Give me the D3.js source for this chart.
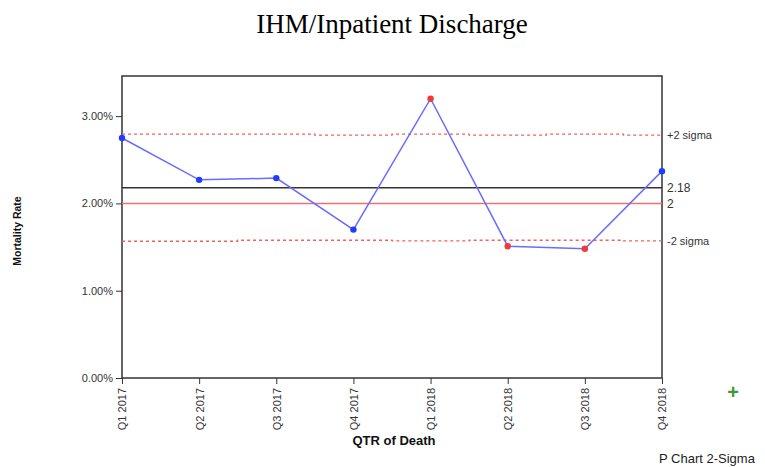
<!DOCTYPE html>
<html>
    <head>
        <title>IHM/Inpatient Discharge</title>
        <script src="https://d3js.org/d3.v7.min.js"></script>
        <style>
            body { margin: 0; background: #fff; }
            .axis text { font-family: "Liberation Sans", Arial, sans-serif; font-size: 11px; fill: #333; }
            .axis line, .axis path { stroke: #333; }
        </style>
    </head>
    <body>
        <svg width="765" height="467"></svg>
        <script>
            // quarters and rates (percent)
            var quarters = ["Q1 2017", "Q2 2017", "Q3 2017", "Q4 2017", "Q1 2018", "Q2 2018", "Q3 2018", "Q4 2018"];
            var rates = [2.75, 2.27, 2.29, 1.70, 3.20, 1.51, 1.48, 2.37];
            var upperLimit = [2.793, 2.793, 2.793, 2.782, 2.793, 2.782, 2.793, 2.782];
            var lowerLimit = [1.567, 1.567, 1.578, 1.578, 1.570, 1.578, 1.578, 1.570];
            var centerLine = 2.18;
            var targetLine = 2;
            var yTicks = [0, 1, 2, 3];

            var margin = {top: 76, right: 103, bottom: 89, left: 122};
            var width = 765 - margin.left - margin.right;
            var height = 467 - margin.top - margin.bottom;

            var svg = d3.select("svg");
            var g = svg.append("g")
                .attr("transform", "translate(" + margin.left + "," + margin.top + ")");

            var x = d3.scalePoint().domain(quarters).range([0, width]);
            var y = d3.scaleLinear().domain([0, 3.46]).range([height, 0]);

            // title
            svg.append("text")
                .attr("x", 392).attr("y", 33)
                .attr("text-anchor", "middle")
                .style("font-family", "'Liberation Serif', 'Times New Roman', serif")
                .style("font-size", "27px")
                .text("IHM/Inpatient Discharge");

            // axes
            g.append("g").attr("class", "axis")
                .call(d3.axisLeft(y).tickValues(yTicks).tickSize(6).tickFormat(d => d.toFixed(2) + "%"))
                .call(a => a.select(".domain").remove());

            g.append("g").attr("class", "axis")
                .attr("transform", "translate(0," + height + ")")
                .call(d3.axisBottom(x).tickSize(6))
                .call(a => a.select(".domain").remove())
                .selectAll("text")
                .attr("transform", "rotate(-90)")
                .attr("text-anchor", "end")
                .attr("x", -10).attr("y", 0).attr("dy", "0.35em");

            // frame
            g.append("rect")
                .attr("width", width).attr("height", height)
                .attr("fill", "none").attr("stroke", "#333").attr("stroke-width", 1.5);

            // limits
            var stepLine = d3.line().curve(d3.curveStep)
                .x((d, i) => x(quarters[i])).y(d => y(d));
            [upperLimit, lowerLimit].forEach(function(lim) {
                g.append("path").datum(lim)
                    .attr("d", stepLine)
                    .attr("fill", "none").attr("stroke", "#f06060")
                    .attr("stroke-width", 1.3).attr("stroke-dasharray", "3,3");
            });

            g.append("line")
                .attr("x1", 0).attr("x2", width)
                .attr("y1", y(centerLine)).attr("y2", y(centerLine))
                .attr("stroke", "#333").attr("stroke-width", 1.5);
            g.append("line")
                .attr("x1", 0).attr("x2", width)
                .attr("y1", y(targetLine)).attr("y2", y(targetLine))
                .attr("stroke", "#f07070").attr("stroke-width", 1.5);

            // right side labels
            var rightLabels = [
                {t: "+2 sigma", v: upperLimit[upperLimit.length - 1]},
                {t: "2.18", v: centerLine},
                {t: "2", v: targetLine},
                {t: "-2 sigma", v: lowerLimit[lowerLimit.length - 1]}
            ];
            g.selectAll(".rlab").data(rightLabels).enter().append("text")
                .attr("x", width + 5).attr("y", d => y(d.v))
                .attr("dy", "0.35em")
                .style("font-family", "'Liberation Sans', Arial, sans-serif")
                .style("font-size", d => d.t.length > 4 ? "11px" : "12px")
                .style("fill", "#333")
                .text(d => d.t);

            // data
            g.append("path").datum(rates)
                .attr("d", d3.line().x((d, i) => x(quarters[i])).y(d => y(d)))
                .attr("fill", "none").attr("stroke", "#6a6cff").attr("stroke-width", 1.5);

            g.selectAll(".dot").data(rates).enter().append("circle")
                .attr("cx", (d, i) => x(quarters[i])).attr("cy", d => y(d))
                .attr("r", 3.2)
                .attr("fill", (d, i) => (d > upperLimit[i] || d < lowerLimit[i]) ? "#f03a3a" : "#1f3cff");

            // axis titles
            svg.append("text")
                .attr("x", 394).attr("y", 445)
                .attr("text-anchor", "middle")
                .style("font-family", "'Liberation Sans', Arial, sans-serif")
                .style("font-weight", "bold").style("font-size", "13px")
                .style("fill", "#111")
                .text("QTR of Death");
            svg.append("text")
                .attr("transform", "translate(21,231) rotate(-90)")
                .attr("text-anchor", "middle")
                .style("font-family", "'Liberation Sans', Arial, sans-serif")
                .style("font-weight", "bold").style("font-size", "10.5px")
                .style("fill", "#111")
                .text("Mortality Rate");

            // corner marks
            svg.append("text")
                .attr("x", 733).attr("y", 399)
                .attr("text-anchor", "middle")
                .style("font-family", "'Liberation Sans', Arial, sans-serif")
                .style("font-weight", "bold").style("font-size", "20px")
                .style("fill", "#3a9a3a")
                .text("+");
            svg.append("text")
                .attr("x", 659).attr("y", 463)
                .style("font-family", "'Liberation Sans', Arial, sans-serif")
                .style("font-size", "13px")
                .style("fill", "#222")
                .text("P Chart 2-Sigma");
        </script>
    </body>
</html>
